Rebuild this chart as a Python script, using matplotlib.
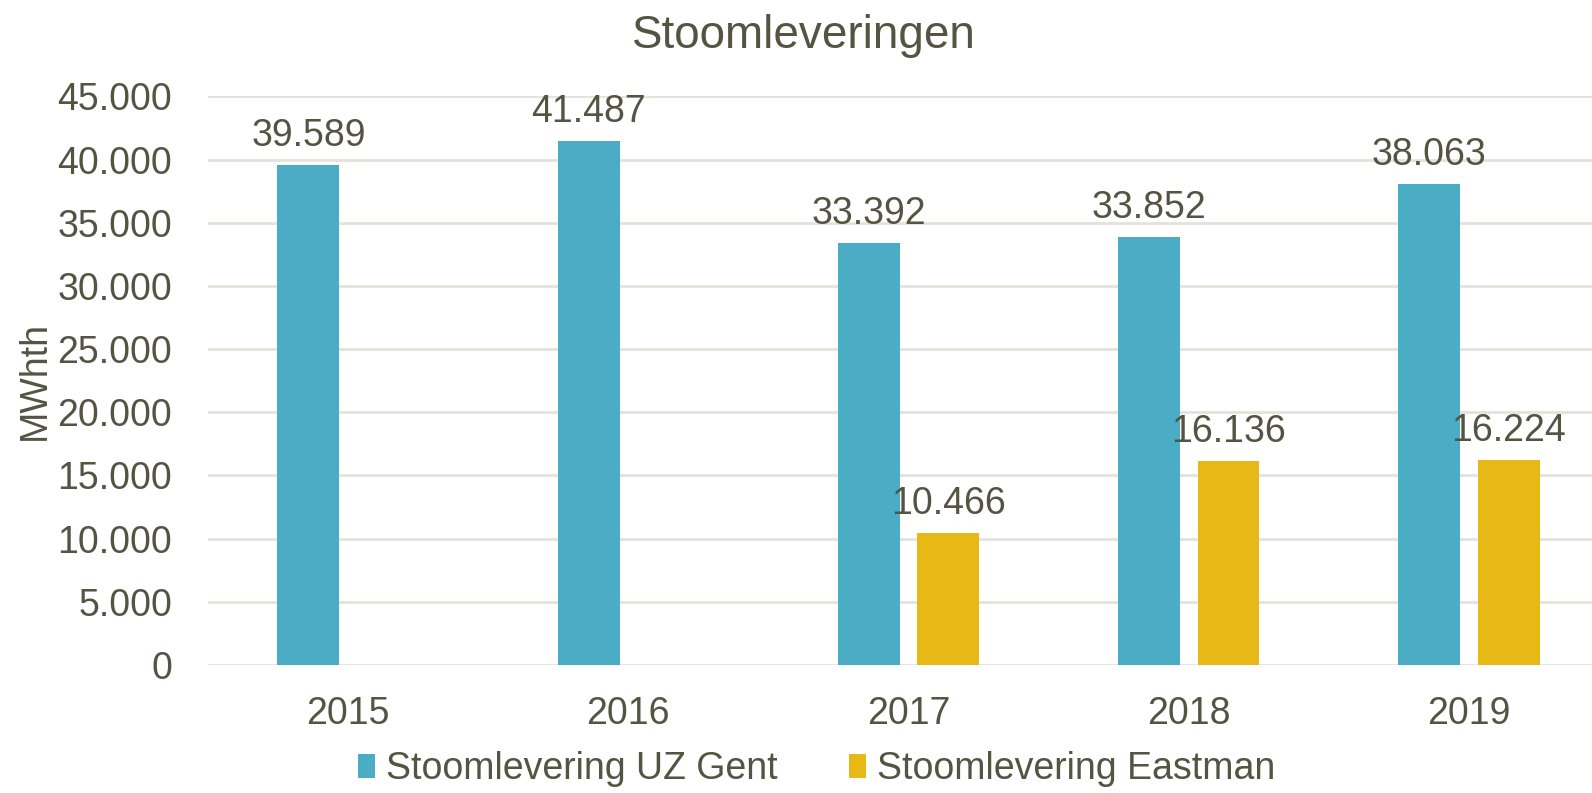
import numpy as np
import matplotlib.pyplot as plt

# data
jaren = ['2015', '2016', '2017', '2018', '2019']
uz_gent = [39589, 41487, 33392, 33852, 38063]
eastman = [0, 0, 10466, 16136, 16224]
yticks = [0, 5000, 10000, 15000, 20000, 25000, 30000, 35000, 40000, 45000]

kleur_blauw = '#4BACC6'
kleur_geel = '#E8B816'
tekst = '#545443'

plt.rcParams['font.family'] = ['Liberation Sans', 'DejaVu Sans']
fs = 27
fs_titel = 33


def fmt(v):
    return f'{v:,.0f}'.replace(',', '.')


fig = plt.figure(figsize=(15.92, 7.93), dpi=100)
ax = fig.add_axes([0.1307, 0.1614, 0.880, 0.717])

x = np.arange(len(jaren))
w = 0.221
off = 0.142

ax.bar(x - off, uz_gent, w, color=kleur_blauw, label='Stoomlevering UZ Gent', zorder=3)
# Eastman heeft geen levering in 2015/2016
mask = np.array(eastman) > 0
ax.bar(x[mask] + off, np.array(eastman)[mask], w, color=kleur_geel,
       label='Stoomlevering Eastman', zorder=3)

for xi, v in zip(x, uz_gent):
    ax.annotate(fmt(v), (xi - off, v), xytext=(0, 8), textcoords='offset points',
                ha='center', va='bottom', fontsize=fs, color=tekst)
for xi, v in zip(x[mask], np.array(eastman)[mask]):
    ax.annotate(fmt(v), (xi + off, v), xytext=(0, 8), textcoords='offset points',
                ha='center', va='bottom', fontsize=fs, color=tekst)

ax.set_xlim(-0.5, 4.5)
ax.set_ylim(0, 45000)
ax.set_yticks(yticks)
ax.set_yticklabels([fmt(t) for t in yticks])
ax.set_xticks(x)
ax.set_xticklabels(jaren)
ax.tick_params(axis='both', length=0, labelsize=fs, colors=tekst)
ax.tick_params(axis='x', pad=22)
ax.tick_params(axis='y', pad=26)
ax.grid(axis='y', color='#E3E3DC', linewidth=2, zorder=0)
for s in ax.spines.values():
    s.set_visible(False)

ax.set_ylabel('MWhth', fontsize=fs, color=tekst)
ax.yaxis.set_label_coords(-0.111, 0.5)

fig.text(0.505, 0.955, 'Stoomleveringen', ha='center', va='center',
         fontsize=fs_titel, color=tekst)

fig.legend(loc='center', bbox_to_anchor=(0.513, 0.03), ncol=2, frameon=False,
           fontsize=fs, labelcolor=tekst, handlelength=0.45, handleheight=0.6,
           handletextpad=0.3, columnspacing=1.9, borderaxespad=0)

fig.savefig('out.png', dpi=100)
